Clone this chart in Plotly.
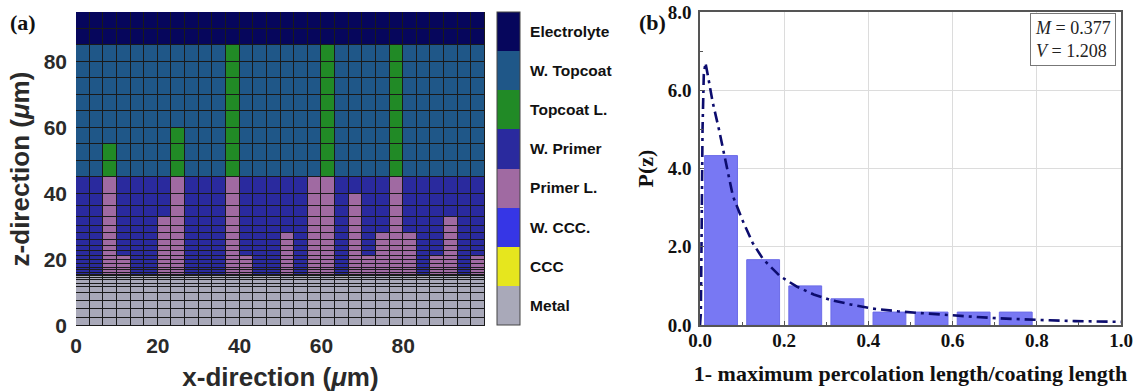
import numpy as np
import plotly.graph_objects as go

# ---------------- data: panel (a) ----------------
layer_names = ["Metal", "CCC", "W. CCC.", "Primer L.", "W. Primer",
               "Topcoat L.", "W. Topcoat", "Electrolyte"]
layer_colors = ["#a9a9b9", "#e6e61e", "#3636e6", "#a06aa2", "#2a2a9e",
                "#218a26", "#1f5788", "#06065c"]

x_edges = list(np.linspace(0, 100, 31))
metal_edges = [0, 2.5, 5.0, 7.5, 10.0, 11.7, 12.8, 13.8, 14.5, 15.0]
primer_edges = [15.0, 15.5, 16.1, 16.8, 17.7, 18.7, 19.9, 21.2, 22.6, 24.2,
                26.0, 28.0, 30.3, 32.9, 36.3, 40.0, 45.0]
topcoat_edges = [45, 50, 55, 60, 65, 70, 75, 80, 85]
electrolyte_edges = [85, 90, 95]

# height of the primer-layer percolation column per mesh column (um)
primer_leak_top = [0, 0, 45, 21.2, 0, 0, 32.9, 45, 0, 0,
                   0, 45, 21.2, 0, 0, 28.0, 0, 45, 45, 0,
                   40.0, 21.2, 28.0, 45, 28.0, 0, 21.2, 32.9, 0, 21.2]
# height of the topcoat-layer percolation column per mesh column (um)
topcoat_leak_top = [0, 0, 55, 0, 0, 0, 0, 60, 0, 0,
                    0, 85, 0, 0, 0, 0, 0, 0, 85, 0,
                    0, 0, 0, 85, 0, 0, 0, 0, 0, 0]

# ---------------- data: panel (b) ----------------
bin_centers = [0.05, 0.15, 0.25, 0.35, 0.45, 0.55, 0.65, 0.75]
bin_heights = [4.33, 1.67, 1.00, 0.67, 0.33, 0.33, 0.33, 0.33]
fit_x = [0.0, 0.002, 0.004, 0.006, 0.009, 0.013, 0.02, 0.03, 0.045, 0.06,
         0.078, 0.1, 0.125, 0.15, 0.19, 0.23, 0.27, 0.31, 0.36, 0.41,
         0.47, 0.53, 0.59, 0.65, 0.71, 0.77, 0.83, 0.89, 0.95, 1.0]
fit_y = [0.0, 0.3, 2.5, 5.0, 6.4, 6.7, 6.3, 5.7, 5.0, 4.2,
         3.3, 2.7, 2.1, 1.68, 1.25, 0.98, 0.78, 0.64, 0.52, 0.42,
         0.35, 0.30, 0.25, 0.21, 0.17, 0.14, 0.12, 0.10, 0.09, 0.08]
stats_text = "<i>M</i> = 0.377<br><i>V</i> = 1.208"

# ---------------- build mesh ----------------
y_edges = metal_edges + primer_edges[1:] + topcoat_edges[1:] + electrolyte_edges[1:]
ncol = len(x_edges) - 1
z = []
for j in range(len(y_edges) - 1):
    c = 0.5 * (y_edges[j] + y_edges[j + 1])
    row = []
    for i in range(ncol):
        if c < 15:
            v = 0
        elif c < 45:
            v = 3 if c < primer_leak_top[i] else 4
        elif c < 85:
            v = 5 if c < topcoat_leak_top[i] else 6
        else:
            v = 7
        row.append(v)
    z.append(row)

n = len(layer_colors)
colorscale = []
for k, col in enumerate(layer_colors):
    colorscale.append([k / n, col])
    colorscale.append([(k + 1) / n, col])

W, H = 1142, 392
def px_x(p):
    return p / W
def px_y(p):
    return 1 - p / H

fig = go.Figure()
fig.add_trace(go.Heatmap(
    x=x_edges, y=y_edges, z=z, zmin=-0.5, zmax=n - 0.5,
    colorscale=colorscale, xgap=1, ygap=1, xaxis="x", yaxis="y",
    hoverinfo="skip",
    colorbar=dict(
        x=px_x(497), xanchor="left", xpad=0,
        y=px_y(12), yanchor="top", ypad=0,
        lenmode="pixels", len=313, thickness=23,
        outlinewidth=1, outlinecolor="#444",
        tickvals=list(range(n)), ticktext=layer_names,
        ticks="outside", ticklen=7, tickcolor="rgba(0,0,0,0)",
        tickfont=dict(family="Liberation Sans", size=15.5, color="#111", weight="bold"),
    ),
))

fig.add_trace(go.Bar(
    x=bin_centers, y=bin_heights, width=0.078,
    marker=dict(color="#7878f3", line=dict(color="#6c6ce8", width=1)),
    xaxis="x2", yaxis="y2", showlegend=False,
))
fig.add_trace(go.Scatter(
    x=fit_x, y=fit_y, mode="lines",
    line=dict(color="#0c0c6e", width=2.6, dash="11px,5px,3px,5px"),
    xaxis="x2", yaxis="y2", showlegend=False,
))

sans_tick = dict(family="Liberation Sans", size=21, color="#2a2a2a", weight="bold")
sans_title = dict(family="Liberation Sans", size=26, color="#2a2a2a", weight="bold")
serif_tick = dict(family="Liberation Serif", size=19, color="#111", weight="bold")
serif_title = dict(family="Liberation Serif", size=22, color="#111", weight="bold")

fig.update_layout(
    width=W, height=H,
    margin=dict(l=0, r=0, t=0, b=0, autoexpand=False),
    paper_bgcolor="white",
    plot_bgcolor="#1a1a1a",
    showlegend=False,
    xaxis=dict(domain=[px_x(76), px_x(485)], range=[0, 100], automargin=False,
               tickvals=[0, 20, 40, 60, 80], tickfont=sans_tick, ticklabelstandoff=5,
               showgrid=False, zeroline=False, ticks="", showline=False,
               title=dict(text="x-direction (<i>μ</i>m)", font=sans_title, standoff=13)),
    yaxis=dict(domain=[px_y(326), px_y(12)], range=[0, 95], automargin=False,
               tickvals=[0, 20, 40, 60, 80], tickfont=sans_tick, ticklabelstandoff=8,
               showgrid=False, zeroline=False, ticks="", showline=False,
               title=dict(text="z-direction (<i>μ</i>m)", font=sans_title, standoff=6)),
    xaxis2=dict(domain=[px_x(700), px_x(1121)], range=[0, 1], anchor="y2", automargin=False,
                tickvals=[0, 0.2, 0.4, 0.6, 0.8, 1.0], tickformat=".1f",
                tickfont=serif_tick, ticklabelstandoff=-3, showgrid=True, gridcolor="#dcdcdc",
                zeroline=False, showline=True, mirror=True, linecolor="#555",
                linewidth=1.5, ticks="inside", ticklen=4, tickcolor="#555",
                minor=dict(tickvals=[0.1, 0.3, 0.5, 0.7, 0.9], ticks="inside",
                           ticklen=3, tickcolor="#555", showgrid=False),
                title=dict(text="1- maximum percolation length/coating length",
                           font=serif_title, standoff=16)),
    yaxis2=dict(domain=[px_y(325), px_y(12)], range=[0, 8], anchor="x2", automargin=False,
                tickvals=[0, 2, 4, 6, 8], tickformat=".1f", ticklabelstandoff=3,
                tickfont=serif_tick, showgrid=True, gridcolor="#dcdcdc",
                zeroline=False, showline=True, mirror=True, linecolor="#555",
                linewidth=1.5, ticks="inside", ticklen=4, tickcolor="#555",
                minor=dict(tickvals=[1, 3, 5, 7], ticks="inside",
                           ticklen=3, tickcolor="#555", showgrid=False),
                title=dict(text="P(z)", font=serif_title, standoff=8)),
    shapes=[
        dict(type="rect", xref="x2 domain", yref="y2 domain", x0=0, x1=1, y0=0, y1=1,
             fillcolor="white", line=dict(width=0), layer="below"),
    ],
    annotations=[
        dict(text="<b>(a)</b>", xref="paper", yref="paper", x=px_x(8), y=px_y(22),
             xanchor="left", yanchor="middle", showarrow=False,
             font=dict(family="Liberation Serif", size=22, color="#111")),
        dict(text="<b>(b)</b>", xref="paper", yref="paper", x=px_x(637), y=px_y(23),
             xanchor="left", yanchor="middle", showarrow=False,
             font=dict(family="Liberation Serif", size=22, color="#111")),
        dict(text=stats_text, xref="paper", yref="paper", x=px_x(1116), y=px_y(13),
             xanchor="right", yanchor="top", showarrow=False, align="left",
             bordercolor="#777", borderwidth=1, borderpad=4, bgcolor="white",
             font=dict(family="Liberation Serif", size=18, color="#222")),
    ],
)

fig.write_html("out.html")
